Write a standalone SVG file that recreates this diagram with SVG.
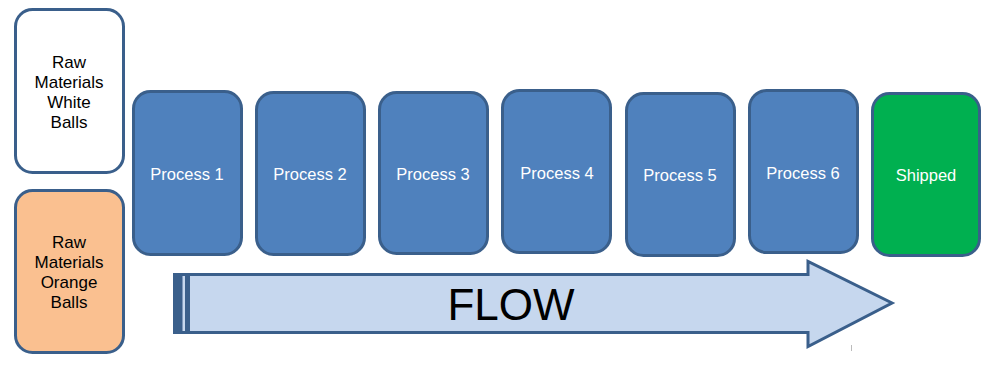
<svg xmlns="http://www.w3.org/2000/svg" width="995" height="366" viewBox="0 0 995 366">
<style>
.box{stroke:#3A5F8B;stroke-width:3}
.proc{fill:#4F81BD}
.lbl{font-family:"Liberation Sans",Arial,sans-serif;font-size:16.5px;text-anchor:middle}
.raw{font-family:"Liberation Sans",Arial,sans-serif;font-size:17px;text-anchor:middle;fill:#000000}
.w{fill:#FFFFFF}
</style>
<rect width="995" height="366" fill="#FFFFFF"/>
<g id="raw-white">
<rect class="box" x="15.5" y="9.5" width="108" height="163" rx="17" fill="#FFFFFF"/>
<text class="raw" x="69" y="68">Raw</text>
<text class="raw" x="69" y="88">Materials</text>
<text class="raw" x="69" y="108">White</text>
<text class="raw" x="69" y="128">Balls</text>
</g>
<g id="raw-orange">
<rect class="box" x="15.5" y="190.5" width="108" height="162" rx="17" fill="#FAC090"/>
<text class="raw" x="69" y="248">Raw</text>
<text class="raw" x="69" y="268">Materials</text>
<text class="raw" x="69" y="288">Orange</text>
<text class="raw" x="69" y="308">Balls</text>
</g>
<g id="process1"><rect class="box proc" x="133.5" y="91.5" width="108" height="163" rx="17"/><text class="lbl w" x="187" y="180">Process 1</text></g>
<g id="process2"><rect class="box proc" x="256.5" y="92.5" width="108" height="162" rx="17"/><text class="lbl w" x="310" y="180">Process 2</text></g>
<g id="process3"><rect class="box proc" x="379.5" y="92.5" width="108" height="161" rx="17"/><text class="lbl w" x="433" y="180">Process 3</text></g>
<g id="process4"><rect class="box proc" x="502.5" y="90.5" width="108" height="162" rx="17"/><text class="lbl w" x="557" y="179">Process 4</text></g>
<g id="process5"><rect class="box proc" x="626.5" y="93.5" width="108" height="162" rx="17"/><text class="lbl w" x="680" y="181">Process 5</text></g>
<g id="process6"><rect class="box proc" x="749.5" y="90.5" width="108" height="162" rx="17"/><text class="lbl w" x="803" y="179">Process 6</text></g>
<g id="shipped"><rect class="box" x="872.5" y="93.5" width="107" height="162" rx="17" fill="#00B050"/><text class="lbl w" x="926" y="181">Shipped</text></g>
<g id="flow-arrow">
<polygon points="174.5,274.5 808,274.5 808,261.5 892,303 808,346.5 808,332.5 174.5,332.5" fill="#C6D7EE" stroke="#3A5F8B" stroke-width="3" stroke-linejoin="miter"/>
<rect x="174" y="273" width="8.5" height="61" fill="#3A5F8B"/>
<rect x="185" y="273" width="5" height="61" fill="#3A5F8B"/>
<text x="511" y="320" font-family="'Liberation Sans',Arial,sans-serif" font-size="44" text-anchor="middle" fill="#000000">FLOW</text>
</g>
<line x1="851.5" y1="345" x2="851.5" y2="351" stroke="#BBBBBB" stroke-width="1"/>
</svg>
